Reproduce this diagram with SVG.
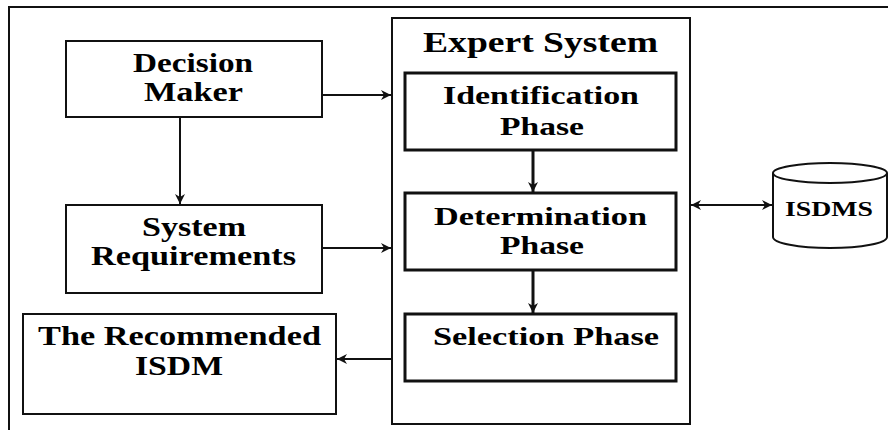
<svg xmlns="http://www.w3.org/2000/svg" width="888" height="430" viewBox="0 0 888 430">
<style>
.box{fill:#fff;stroke:#111;stroke-width:2}
.phase{fill:#fff;stroke:#111;stroke-width:3}
.t{font-family:"Liberation Serif","Times New Roman",serif;font-weight:bold;fill:#000}
.c{fill:none;stroke:#111;stroke-width:2}
.ct{fill:none;stroke:#111;stroke-width:3}
</style>
<defs>
<marker id="ah" viewBox="0 0 10 10" refX="10" refY="5" markerWidth="10" markerHeight="10" markerUnits="userSpaceOnUse" orient="auto-start-reverse">
<path d="M0,0 L10,5 L0,10 L3,5 z" fill="#111"/>
</marker>
</defs>
<rect x="0" y="0" width="888" height="430" fill="#fff"/>
<path d="M9,432 V7 H890" fill="none" stroke="#111" stroke-width="2"/>

<g id="expert-system">
<rect class="box" x="392" y="18" width="298" height="406"/>
<text class="t" x="423" y="51.5" font-size="29" textLength="235" lengthAdjust="spacingAndGlyphs">Expert System</text>
</g>
<g id="decision-maker">
<rect class="box" x="66" y="41" width="256" height="76"/>
<text class="t" x="133" y="71.5" font-size="27" textLength="120" lengthAdjust="spacingAndGlyphs">Decision</text>
<text class="t" x="144" y="100.5" font-size="27" textLength="99" lengthAdjust="spacingAndGlyphs">Maker</text>
</g>
<g id="system-requirements">
<rect class="box" x="66" y="205" width="256" height="88"/>
<text class="t" x="142" y="235.5" font-size="27" textLength="104" lengthAdjust="spacingAndGlyphs">System</text>
<text class="t" x="91" y="265" font-size="27" textLength="205" lengthAdjust="spacingAndGlyphs">Requirements</text>
</g>
<g id="recommended-isdm">
<rect class="box" x="23" y="314" width="313" height="100"/>
<text class="t" x="38" y="345" font-size="27" textLength="283" lengthAdjust="spacingAndGlyphs">The Recommended</text>
<text class="t" x="135" y="375" font-size="27" textLength="88" lengthAdjust="spacingAndGlyphs">ISDM</text>
</g>
<g id="identification-phase">
<rect class="phase" x="405" y="73" width="271" height="77"/>
<text class="t" x="443" y="104" font-size="26" textLength="196" lengthAdjust="spacingAndGlyphs">Identification</text>
<text class="t" x="500" y="135" font-size="26" textLength="84" lengthAdjust="spacingAndGlyphs">Phase</text>
</g>
<g id="determination-phase">
<rect class="phase" x="405" y="193" width="271" height="77"/>
<text class="t" x="434" y="225" font-size="26" textLength="213" lengthAdjust="spacingAndGlyphs">Determination</text>
<text class="t" x="500" y="254" font-size="26" textLength="84" lengthAdjust="spacingAndGlyphs">Phase</text>
</g>
<g id="selection-phase">
<rect class="phase" x="405" y="314" width="271" height="67"/>
<text class="t" x="433" y="345" font-size="26" textLength="226" lengthAdjust="spacingAndGlyphs">Selection Phase</text>
</g>
<g id="isdms">
<path d="M773,173 V237 A57,11 0 0 0 887,237 V173" fill="#fff" stroke="#111" stroke-width="2"/>
<ellipse cx="830" cy="173" rx="57" ry="10" fill="#fff" stroke="#111" stroke-width="2"/>
<text class="t" x="785" y="216" font-size="22" textLength="88" lengthAdjust="spacingAndGlyphs">ISDMS</text>
</g>

<g id="connectors">
<path class="c" d="M322,95 H391" marker-end="url(#ah)"/>
<path class="c" d="M180,117 V204" marker-end="url(#ah)"/>
<path class="c" d="M322,248 H391" marker-end="url(#ah)"/>
<path class="c" d="M392,359 H337" marker-end="url(#ah)"/>
<path class="ct" d="M533,151 V192" marker-end="url(#ah)"/>
<path class="ct" d="M533,271 V313" marker-end="url(#ah)"/>
<path class="c" d="M691,205 H772" marker-start="url(#ah)" marker-end="url(#ah)"/>
</g>
</svg>
